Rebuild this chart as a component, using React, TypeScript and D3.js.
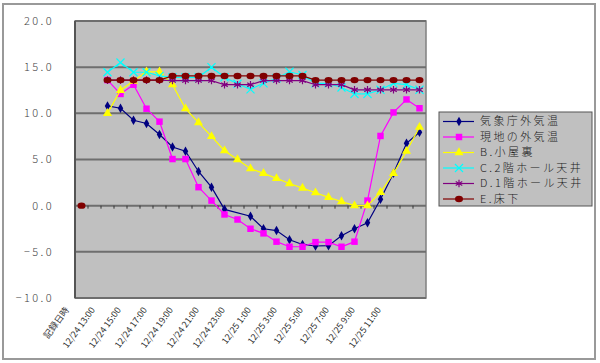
import * as d3 from "d3"

// categories: header row, one blank row, then hourly readings
const categories = [
  "記録日時", "",
  "12/24 13:00", "12/24 14:00", "12/24 15:00", "12/24 16:00", "12/24 17:00",
  "12/24 18:00", "12/24 19:00", "12/24 20:00", "12/24 21:00", "12/24 22:00",
  "12/24 23:00", "12/25 0:00", "12/25 1:00", "12/25 2:00", "12/25 3:00",
  "12/25 4:00", "12/25 5:00", "12/25 6:00", "12/25 7:00", "12/25 8:00",
  "12/25 9:00", "12/25 10:00", "12/25 11:00", "12/25 12:00", "12/25 13:00",
]
const readingCats = categories.slice(2)

const tickLabels = [
  "記録日時", "12/24 13:00", "12/24 15:00", "12/24 17:00", "12/24 19:00",
  "12/24 21:00", "12/24 23:00", "12/25 1:00", "12/25 3:00", "12/25 5:00",
  "12/25 7:00", "12/25 9:00", "12/25 11:00",
]
const yTicks = [20, 15, 10, 5, 0, -5, -10]

const jma = [10.8, 10.55, 9.25, 8.9, 7.7, 6.35, 5.9, 3.7, 2.0, -0.4, null, -1.15, -2.5, -2.7, -3.7, -4.2, -4.37, -4.33, -3.25, -2.5, -1.85, 0.7, 3.5, 6.75, 7.95]
const local = [13.6, 12.1, 13.1, 10.5, 9.1, 5.05, 5.05, 2.0, 0.55, -0.95, -1.5, -2.5, -3.0, -3.9, -4.45, -4.45, -3.95, -3.95, -4.45, -3.9, 0.55, 7.55, 10.1, 11.5, 10.55]
const attic = [10.0, 12.5, 13.5, 14.5, 14.5, 13.1, 10.5, 9.0, 7.5, 5.95, 5.0, 4.0, 3.5, 2.95, 2.4, 1.9, 1.4, 0.9, 0.45, 0.0, 0.0, 1.45, 3.5, 5.9, 8.5]
const hall2 = [14.45, 15.5, 14.45, 14.45, 14.05, 13.9, 13.9, 13.9, 15.0, 13.9, 13.2, 12.6, 13.25, 13.8, 14.5, 14.15, 13.25, 13.25, 12.8, 12.1, 12.1, 12.55, 13.25, 13.1, 12.55]
const hall1 = [13.6, 13.6, 13.6, 13.6, 13.6, 13.55, 13.55, 13.55, 13.55, 13.1, 13.1, 13.1, 13.55, 13.55, 13.55, 13.55, 13.1, 13.1, 13.1, 12.55, 12.55, 12.55, 12.55, 12.55, 12.55]
const floor = [13.6, 13.6, 13.6, 13.6, 13.6, 14.05, 14.05, 14.05, 14.05, 14.05, 14.05, 14.05, 14.05, 14.05, 14.05, 14.05, 13.6, 13.6, 13.6, 13.6, 13.6, 13.6, 13.6, 13.6, 13.6]
// header row value (only the floor series shows on top)
const headerFloor = 0

type Mark = "diamond" | "square" | "triangle" | "times" | "asterisk" | "circle"
const series: { name: string; values: (number | null)[]; color: string; mark: Mark }[] = [
  { name: "気象庁外気温", values: jma, color: "#000080", mark: "diamond" },
  { name: "現地の外気温", values: local, color: "#ff00ff", mark: "square" },
  { name: "B.小屋裏", values: attic, color: "#ffff00", mark: "triangle" },
  { name: "C.2階ホール天井", values: hall2, color: "#00ffff", mark: "times" },
  { name: "D.1階ホール天井", values: hall1, color: "#800080", mark: "asterisk" },
  { name: "E.床下", values: floor, color: "#800000", mark: "circle" },
]

const plot = { left: 75, right: 426, top: 21, bottom: 298 }

const x = d3.scaleBand<string>().domain(categories).range([plot.left, plot.right])
const cx = (c: string) => (x(c) ?? 0) + x.bandwidth() / 2
const y = d3.scaleLinear().domain([-10, 20]).range([plot.bottom, plot.top])
const fmt = d3.format(".1f")

const symbolPath = (mark: Mark) => {
  const t: Record<string, [d3.SymbolType, number]> = {
    diamond: [d3.symbolDiamond, 26],
    square: [d3.symbolSquare, 42],
    triangle: [d3.symbolTriangle, 36],
    times: [d3.symbolTimes, 44],
    asterisk: [d3.symbolAsterisk, 40],
  }
  const [type, size] = t[mark]
  return d3.symbol(type, size)() ?? ""
}

function Marker({ mark, color, px, py }: { mark: Mark; color: string; px: number; py: number }) {
  if (mark === "circle") return <ellipse cx={px} cy={py} rx={4} ry={3.2} fill={color} />
  const stroked = mark === "times" || mark === "asterisk"
  return (
    <path
      d={symbolPath(mark)}
      transform={`translate(${px},${py})`}
      fill={stroked ? "none" : color}
      stroke={stroked ? color : "none"}
      strokeWidth={1.2}
    />
  )
}

export default function App() {
  const font = "'Noto Sans CJK JP', 'Noto Sans', sans-serif"
  const line = d3.line<[string, number]>().x(d => cx(d[0])).y(d => y(d[1]))

  return (
    <svg width={600} height={363} style={{ position: "absolute", left: 0, top: 0, background: "#fff" }} fontFamily={font}>
      <rect x={3} y={4} width={592} height={355} fill="#fff" stroke="#999" strokeWidth={2} />

      {/* plot area */}
      <rect x={plot.left} y={plot.top} width={plot.right - plot.left} height={plot.bottom - plot.top} fill="#c0c0c0" stroke="#808080" strokeWidth={1.5} />
      {yTicks.map(t => (
        <line key={t} x1={plot.left} x2={plot.right} y1={y(t)} y2={y(t)} stroke="#6e6e6e" strokeWidth={2} />
      ))}
      <line x1={plot.left} x2={plot.left} y1={plot.top} y2={plot.bottom} stroke="#555" strokeWidth={2} />
      {categories.slice(1).map(c => (
        <line key={c || "blank"} x1={x(c)} x2={x(c)} y1={y(0)} y2={y(0) + 3} stroke="#333" strokeWidth={1} />
      ))}

      {/* y labels */}
      {yTicks.map(t => (
        <text key={t} x={54} y={y(t)} dy="0.35em" textAnchor="end" fontSize={11} fontWeight={300} letterSpacing={2.4} fill="#444">
          {fmt(t)}
        </text>
      ))}

      {/* x labels */}
      {tickLabels.map(l => {
        const px = cx(l) - 12
        const py = plot.bottom + 12
        return (
          <text key={l} x={px} y={py} textAnchor="end" fontSize={9} fill="#333" transform={`rotate(-54,${px},${py})`}>
            {l}
          </text>
        )
      })}

      {/* series */}
      {series.map(s => {
        const pts = readingCats
          .map((c, i) => [c, s.values[i]] as [string, number | null])
          .filter((d): d is [string, number] => d[1] !== null)
        return (
          <g key={s.name}>
            <path d={line(pts) ?? ""} fill="none" stroke={s.color} strokeWidth={1.2} />
            {pts.map(d => (
              <Marker key={d[0]} mark={s.mark} color={s.color} px={cx(d[0])} py={y(d[1])} />
            ))}
          </g>
        )
      })}
      <Marker mark="circle" color="#800000" px={cx(categories[0])} py={y(headerFloor)} />

      {/* legend */}
      <rect x={439} y={112} width={153} height={94} fill="#c0c0c0" stroke="#555" strokeWidth={1} />
      {series.map((s, i) => {
        const ly = 121.5 + i * 15.5
        return (
          <g key={s.name}>
            <line x1={443} x2={474} y1={ly} y2={ly} stroke={s.color} strokeWidth={1.2} />
            <Marker mark={s.mark} color={s.color} px={459} py={ly} />
            <text x={480} y={ly} dy="0.36em" fontSize={11} fontWeight={300} letterSpacing={2.4} fill="#222">
              {s.name}
            </text>
          </g>
        )
      })}
    </svg>
  )
}
